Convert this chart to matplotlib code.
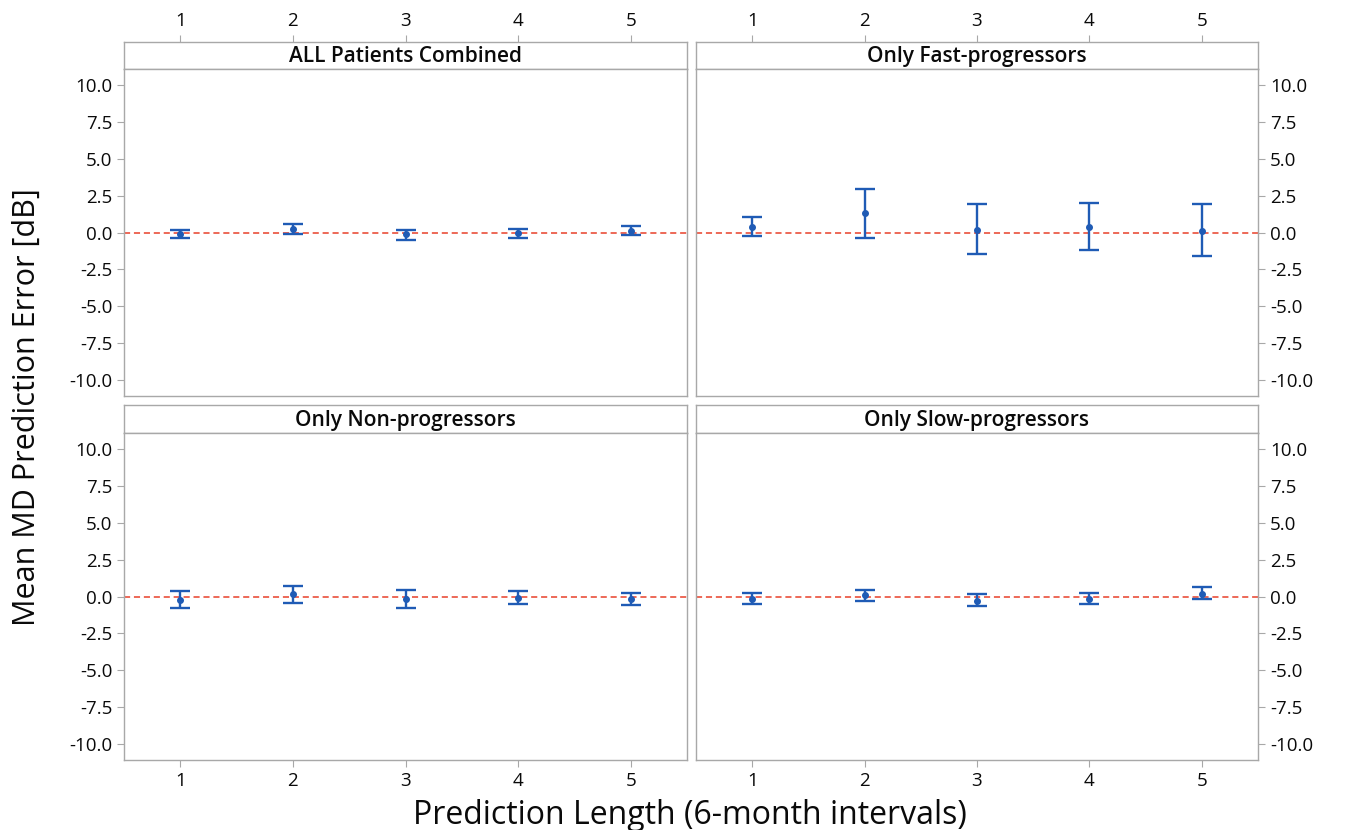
import numpy as np
import matplotlib
matplotlib.use('Agg')
import matplotlib.pyplot as plt

plt.rcParams['font.family'] = ['Open Sans', 'DejaVu Sans']

#============================================================
# data
#============================================================
pred_len = [1, 2, 3, 4, 5]
panel_titles = ['ALL Patients Combined', 'Only Fast-progressors',
                'Only Non-progressors', 'Only Slow-progressors']

all_mean = [-0.08, 0.27, -0.12, -0.06, 0.12]
all_upper = [0.20, 0.60, 0.20, 0.27, 0.45]
all_lower = [-0.35, -0.07, -0.50, -0.37, -0.20]

fast_mean = [0.38, 1.29, 0.18, 0.38, 0.13]
fast_upper = [1.06, 2.96, 1.92, 1.99, 1.92]
fast_lower = [-0.27, -0.39, -1.45, -1.18, -1.61]

non_mean = [-0.22, 0.15, -0.16, -0.11, -0.18]
non_upper = [0.34, 0.72, 0.47, 0.38, 0.27]
non_lower = [-0.79, -0.47, -0.77, -0.52, -0.59]

slow_mean = [-0.16, 0.09, -0.32, -0.16, 0.20]
slow_upper = [0.22, 0.41, 0.15, 0.22, 0.65]
slow_lower = [-0.52, -0.29, -0.66, -0.50, -0.20]

y_ticks = [10.0, 7.5, 5.0, 2.5, 0.0, -2.5, -5.0, -7.5, -10.0]

#============================================================
BLUE = '#1f5bb5'
RED = '#e8402a'
GRAY = '#a8a8a8'
TXT = '#0a0a0a'
W, H = 1345, 830

fig = plt.figure(figsize=(W / 100, H / 100), dpi=100)

def fx(px):
    return px / W

def fy(py):
    return 1 - py / H

# panel pixel boxes: (left, right) and (strip_top, strip_bottom, plot_bottom)
cols = [(124, 687), (696, 1258)]
rows = [(42, 69, 396), (405, 433, 760)]

panels = [
    (all_mean, all_upper, all_lower),
    (fast_mean, fast_upper, fast_lower),
    (non_mean, non_upper, non_lower),
    (slow_mean, slow_upper, slow_lower),
]

def style_spines(ax):
    for s in ax.spines.values():
        s.set_color(GRAY)
        s.set_linewidth(1.0)

for i, (mean, upper, lower) in enumerate(panels):
    r, c = divmod(i, 2)
    x0, x1 = cols[c]
    st, sb, pb = rows[r]
    # strip with panel title
    sax = fig.add_axes([fx(x0), fy(sb), fx(x1) - fx(x0), fy(st) - fy(sb)])
    sax.set_xlim(0.5, 5.5)
    sax.set_ylim(0, 1)
    sax.set_yticks([])
    style_spines(sax)
    sax.text(3, 0.45, panel_titles[i], ha='center', va='center',
             fontsize=15, fontweight='semibold', color=TXT)
    if r == 0:
        sax.xaxis.tick_top()
        sax.set_xticks(pred_len)
        sax.tick_params(axis='x', colors=GRAY, labelcolor=TXT,
                        labelsize=13.5, length=5, direction='out')
    else:
        sax.set_xticks([])

    # plot area
    ax = fig.add_axes([fx(x0), fy(pb), fx(x1) - fx(x0), fy(sb) - fy(pb)])
    style_spines(ax)
    ax.set_xlim(0.5, 5.5)
    ax.set_ylim(-11.08, 11.08)
    ax.axhline(0, color=RED, lw=1.1, ls=(0, (4, 2.5)), zorder=1)
    m = np.array(mean)
    yerr = [m - np.array(lower), np.array(upper) - m]
    ax.errorbar(pred_len, m, yerr=yerr, fmt='o', color=BLUE, ms=4,
                elinewidth=1.7, capsize=7.5, capthick=1.7, zorder=3)
    ax.set_yticks(y_ticks)
    ax.set_yticklabels(['%.1f' % v for v in y_ticks])
    if c == 1:
        ax.yaxis.tick_right()
    ax.tick_params(axis='y', colors=GRAY, labelcolor=TXT,
                   labelsize=13.5, length=5, direction='out')
    if r == 1:
        ax.set_xticks(pred_len)
        ax.tick_params(axis='x', colors=GRAY, labelcolor=TXT,
                       labelsize=13.5, length=5, direction='out')
    else:
        ax.set_xticks([])

fig.text(fx(27), fy(407), 'Mean MD Prediction Error [dB]', rotation=90,
         ha='center', va='center', fontsize=22, fontweight='medium', color=TXT)
fig.text(fx(690), fy(815), 'Prediction Length (6-month intervals)',
         ha='center', va='center', fontsize=23, fontweight='medium', color=TXT)

fig.savefig('out.png', dpi=100)
